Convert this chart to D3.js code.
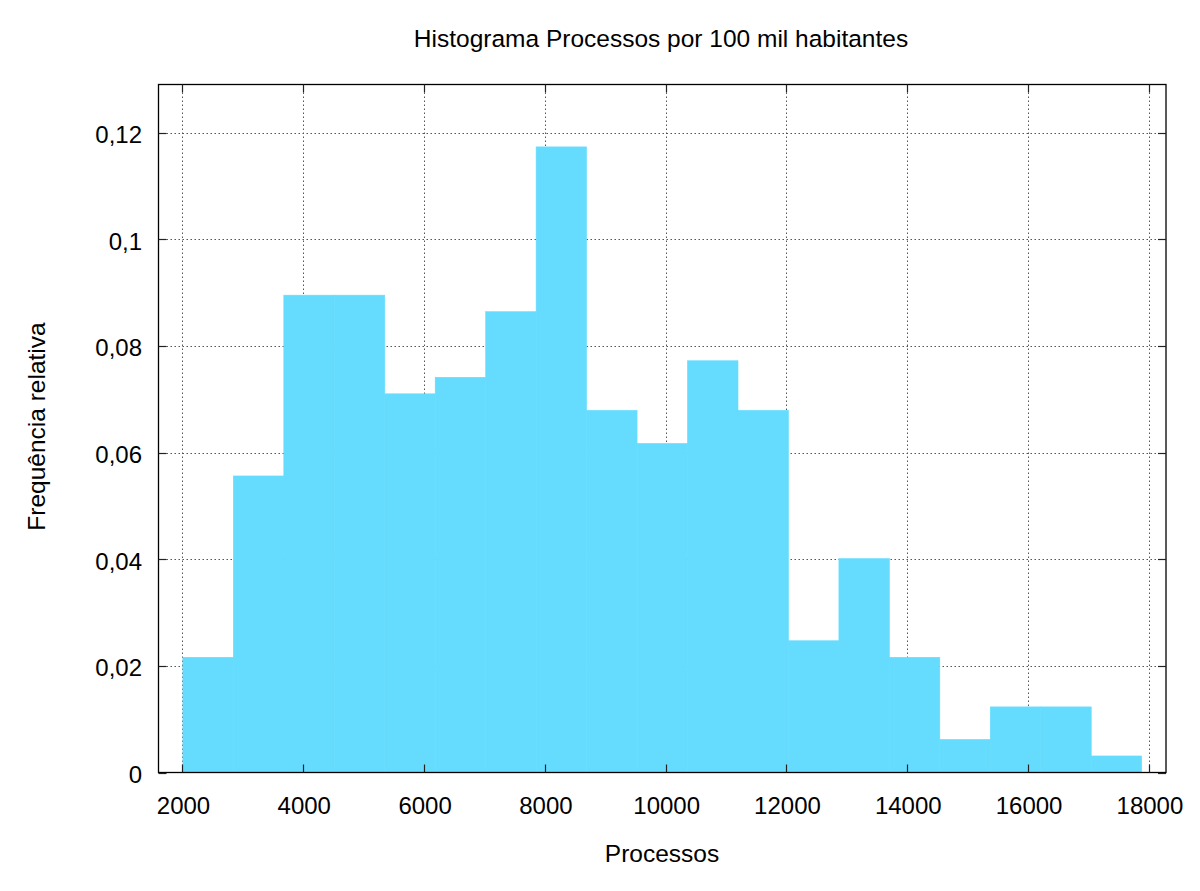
<!DOCTYPE html>
<html>
<head>
<meta charset="UTF-8">
<script src="https://d3js.org/d3.v7.min.js"></script>
<style>
    body { margin: 0; background: #fff; }
    text { font-family: "Liberation Sans", Arial, sans-serif; fill: #000; }
    .tick-label { font-size: 24px; }
    .title { font-size: 24.5px; }
    .axis-title { font-size: 24.5px; }
</style>
</head>
<body>
<svg id="chart" width="1200" height="891"></svg>
<script>
// bin edges (Processos) and relative frequencies
const binEdges = [2007, 2842, 3678, 4513, 5349, 6184, 7020, 7855, 8690, 9526,
                  10361, 11197, 12032, 12868, 13703, 14538, 15374, 16209, 17045, 17880]
const freqs = [0.0216, 0.0556, 0.0895, 0.0895, 0.0710, 0.0741, 0.0864, 0.1173, 0.0679, 0.0617,
               0.0772, 0.0679, 0.0247, 0.0401, 0.0216, 0.0062, 0.0123, 0.0123, 0.0031]
const xTicks = [2000, 4000, 6000, 8000, 10000, 12000, 14000, 16000, 18000]
const yTicks = [0, 0.02, 0.04, 0.06, 0.08, 0.1, 0.12]

const svg = d3.select("#chart")
const pLeft = 158.5, pRight = 1166, pTop = 84.5, pBottom = 772.5

const x = d3.scaleLinear().domain([1603, 18283]).range([pLeft, pRight])
const y = d3.scaleLinear().domain([0, 0.129]).range([pBottom, pTop])

const fmtY = d => d3.format("")(d).replace(".", ",")

// grid
const grid = svg.append("g").attr("stroke", "#555").attr("stroke-width", 1).attr("stroke-dasharray", "1.5,2.5")
grid.selectAll(".gx").data(xTicks).enter().append("line")
    .attr("x1", d => Math.round(x(d)) + 0.5).attr("x2", d => Math.round(x(d)) + 0.5)
    .attr("y1", pTop).attr("y2", pBottom)
grid.selectAll(".gy").data(yTicks.filter(d => d > 0)).enter().append("line")
    .attr("y1", d => Math.round(y(d)) + 0.5).attr("y2", d => Math.round(y(d)) + 0.5)
    .attr("x1", pLeft).attr("x2", pRight)

// bars
const bins = freqs.map((f, i) => ({ x0: binEdges[i], x1: binEdges[i + 1], f: f }))
svg.append("g").selectAll("rect").data(bins).enter().append("rect")
    .attr("x", d => x(d.x0))
    .attr("width", d => x(d.x1) - x(d.x0))
    .attr("y", d => y(d.f))
    .attr("height", d => y(0) - y(d.f))
    .attr("fill", "#65dcfe")
    .attr("stroke", "#65dcfe")
    .attr("stroke-width", 0.6)

// frame
svg.append("rect").attr("x", pLeft).attr("y", pTop)
    .attr("width", pRight - pLeft).attr("height", pBottom - pTop)
    .attr("fill", "none").attr("stroke", "#000").attr("stroke-width", 1.3)

// inward ticks on all four sides
const tl = 8
const ticks = svg.append("g").attr("stroke", "#222").attr("stroke-width", 1.2)
xTicks.forEach(d => {
    const px = Math.round(x(d)) + 0.5
    ticks.append("line").attr("x1", px).attr("x2", px).attr("y1", pBottom).attr("y2", pBottom - tl)
    ticks.append("line").attr("x1", px).attr("x2", px).attr("y1", pTop).attr("y2", pTop + tl)
})
yTicks.forEach(d => {
    const py = Math.round(y(d)) + 0.5
    ticks.append("line").attr("y1", py).attr("y2", py).attr("x1", pLeft).attr("x2", pLeft + tl)
    ticks.append("line").attr("y1", py).attr("y2", py).attr("x1", pRight).attr("x2", pRight - tl)
})

// tick labels
svg.append("g").selectAll("text").data(xTicks).enter().append("text")
    .attr("class", "tick-label")
    .attr("x", d => x(d) + 1).attr("y", 814)
    .attr("text-anchor", "middle")
    .text(d => d)
svg.append("g").selectAll("text").data(yTicks).enter().append("text")
    .attr("class", "tick-label")
    .attr("x", 142).attr("y", d => y(d) + 10.5)
    .attr("text-anchor", "end")
    .text(fmtY)

// titles
svg.append("text").attr("class", "title")
    .attr("x", 661).attr("y", 47)
    .attr("text-anchor", "middle")
    .text("Histograma Processos por 100 mil habitantes")
svg.append("text").attr("class", "axis-title")
    .attr("x", 662).attr("y", 862)
    .attr("text-anchor", "middle")
    .text("Processos")
svg.append("text").attr("class", "axis-title")
    .attr("transform", "translate(45,426.5) rotate(-90)")
    .attr("text-anchor", "middle")
    .text("Frequência relativa")
</script>
</body>
</html>
